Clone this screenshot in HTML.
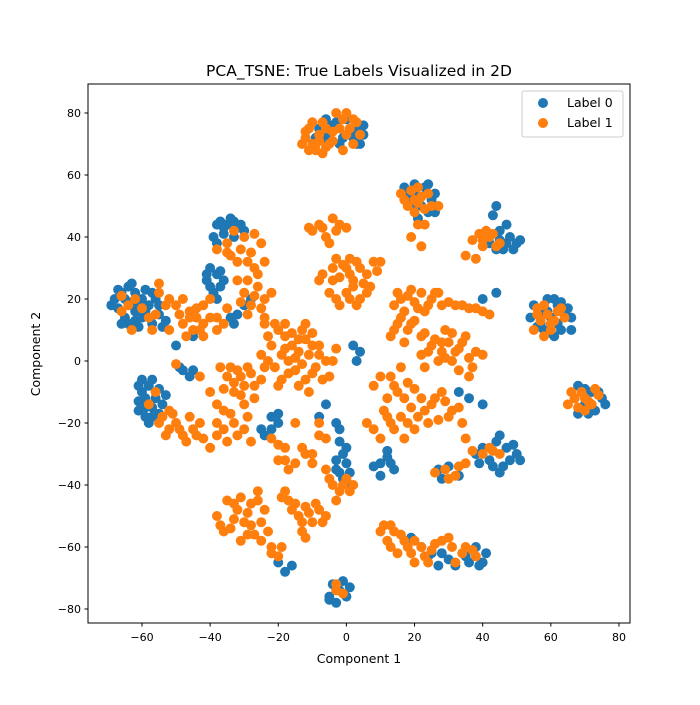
<!DOCTYPE html>
<html><head><meta charset="utf-8"><style>
body{margin:0;background:#fff;font-family:"Liberation Sans","DejaVu Sans",sans-serif}
svg text{font-family:"DejaVu Sans","Liberation Sans",sans-serif}
</style></head><body>
<svg id="chart" width="700" height="700" xmlns="http://www.w3.org/2000/svg">
<rect width="700" height="700" fill="#fff"/>
<text x="359" y="76" font-size="15.5" text-anchor="middle">PCA_TSNE: True Labels Visualized in 2D</text>
<g id="points"></g>
<rect x="88" y="84" width="542" height="539" fill="none" stroke="#000" stroke-width="1"/>
<g id="xt"></g>
<g id="yt"></g>
<text x="359" y="663" font-size="12.5" text-anchor="middle">Component 1</text>
<text transform="translate(40,354) rotate(-90)" font-size="12.5" text-anchor="middle">Component 2</text>
<g>
<rect x="522" y="91" width="101" height="46" rx="2" fill="#fff" fill-opacity="0.8" stroke="#ccc"/>
<circle cx="543" cy="103" r="5" fill="#1f77b4"/>
<text x="567" y="107" font-size="12.5">Label 0</text>
<circle cx="543" cy="123" r="5" fill="#ff7f0e"/>
<text x="567" y="127" font-size="12.5">Label 1</text>
</g>
</svg>
<script>
const xTicks=[-60,-40,-20,0,20,40,60,80];
const yTicks=[-80,-60,-40,-20,0,20,40,60,80];
const label0=[[-68,20],[-66,22],[-64,24],[-62,22],[-60,20],[-58,18],[-62,16],[-65,14],[-60,14],[-57,12],[-55,15],[-53,13],[-63,19],[-67,17],[-59,23],[-56,20],[-61,11],[-64,12],
[-60,-10],[-58,-8],[-56,-12],[-54,-14],[-59,-15],[-57,-18],[-61,-13],[-55,-9],[-53,-11],[-58,-20],[-48,-3],[-46,-5],[-49,-2],
[-37,45],[-35,44],[-33,45],[-31,44],[-36,41],[-33,40],[-30,42],[-38,38],[-40,30],[-38,28],[-41,26],[-37,24],[-39,22],[-36,26],[-30,18],[-28,20],[-32,15],[-33,12],[-34,14],
[-5,76],[0,78],[3,75],[5,76],[2,72],[-2,70],[4,70],[-8,75],[-6,72],
[20,57],[23,56],[18,53],[22,50],[25,52],[26,48],[21,46],
[44,50],[43,47],[45,42],[48,40],[50,38],[46,36],[42,38],[47,44],
[40,20],[44,22],[55,18],[58,16],[60,14],[62,18],[64,16],[57,12],[60,9],[63,10],[66,14],[59,20],[54,14],
[68,-8],[72,-10],[75,-12],[70,-14],[73,-16],[67,-12],
[40,-28],[44,-26],[47,-28],[50,-30],[42,-32],[46,-34],[38,-30],[48,-32],[27,-35],[30,-34],[33,-37],[28,-38],
[-2,-26],[-1,-30],[0,-33],[-3,-35],[-1,-38],[1,-40],[-3,-20],
[-4,-72],[-2,-74],[-5,-76],[-1,-71],[0,-76],
[25,-62],[30,-64],[35,-63],[40,-65],[22,-60],[27,-66],[38,-60],
[10,-33],[12,-31],[14,-35],[36,-12],[40,-14],[33,-10],[2,5],[4,3],[3,0],
[-18,-68],[-16,-66],[-20,-65],[-20,-20],[-22,-18],[-24,-24],[-8,-18],[-6,-14],[-50,5],[-45,8],
[-69,18],[-67,23],[-65,20],[-63,25],[-61,18],[-59,16],[-57,22],[-55,18],[-54,11],[-66,12],[-62,13],
[-61,-8],[-59,-12],[-57,-15],[-55,-17],[-59,-18],[-61,-16],[-57,-6],
[-38,44],[-34,46],[-32,43],[-36,43],[-39,40],[-41,28],[-40,24],[-37,29],[-38,20],
[-6,78],[-3,77],[1,74],[5,73],[3,70],[-1,72],[-9,72],
[17,56],[20,54],[24,57],[26,54],[19,50],[24,48],
[45,39],[49,36],[51,39],[47,38],[44,36],
[61,20],[63,19],[65,17],[66,10],[61,8],[58,10],[56,11],[59,16],[62,12],
[70,-9],[74,-10],[76,-14],[71,-17],[68,-17],
[45,-24],[49,-27],[51,-32],[43,-34],[39,-33],[45,-36],
[0,-28],[-2,-36],[1,-36],[-3,-32],[-2,-22],[-5,-77],[1,-73],[-3,-78],
[19,-57],[24,-63],[28,-62],[32,-66],[36,-65],[41,-62],[39,-66],
[10,-37],[12,-29],[8,-34],[13,-33],[-25,-22],[-22,-22],[-20,-17],[-45,-3],[-60,-6]];
const label1=[[-12,72],[-10,70],[-8,71],[-6,69],[-11,75],[-7,77],[-4,74],[-3,80],[0,80],[1,75],[-9,68],[-5,70],[2,78],[4,73],
[19,55],[17,52],[21,51],[24,54],[20,48],[23,44],[19,40],[22,37],[27,50],
[42,40],[45,38],[40,37],[38,33],[35,34],[39,41],
[-10,42],[-7,43],[-4,46],[-2,44],[0,43],[-6,40],
[-7,28],[-4,30],[-2,27],[0,30],[2,26],[4,30],[1,33],[-3,33],[6,28],[8,32],[10,32],[-5,22],[0,22],[4,20],[2,24],[7,24],[-2,18],
[15,22],[18,21],[20,19],[22,22],[25,20],[17,16],[14,18],[23,16],[28,18],[32,18],[36,17],[40,16],[27,22],
[15,12],[13,8],[18,10],[20,13],[23,9],
[25,5],[28,3],[30,6],[33,4],[35,8],[31,0],[27,0],[22,2],[38,3],[29,10],[37,-2],[40,2],
[13,-5],[16,-2],[18,-7],[15,-10],[12,-12],[19,-15],[22,-12],[25,-14],[28,-10],[30,-18],[24,-20],[20,-22],[17,-25],[13,-20],[16,-18],[33,-15],[10,-25],[8,-22],[6,-20],[10,-5],[8,-8],
[-20,10],[-18,8],[-16,5],[-14,3],[-12,7],[-10,9],[-19,2],[-17,0],[-13,10],[-11,2],[-15,-3],[-9,-2],[-8,5],[-6,0],[-22,5],[-21,-2],[-24,12],[-20,-8],[-12,-6],[-5,-5],[-3,4],
[-35,-5],[-32,-3],[-30,-8],[-28,-4],[-25,-6],[-33,-10],[-27,-12],[-24,-2],[-37,-2],[-30,-14],[-36,-16],[-33,-20],[-38,-20],[-30,-22],[-35,-26],[-40,-10],[-43,-5],
[-30,22],[-28,18],[-26,24],[-24,20],[-32,26],[-26,28],[-28,35],[-25,38],[-32,32],[-35,38],[-38,36],[-33,42],[-30,40],[-29,15],[-24,14],
[-50,18],[-46,16],[-44,14],[-48,12],[-42,18],[-40,20],[-52,10],[-45,10],[-38,10],[-35,17],[-40,14],[-42,8],
[-66,16],[-62,20],[-58,14],[-55,22],[-52,20],[-63,10],[-55,25],
[-58,-14],[-56,-10],[-52,-16],[-55,-20],[-50,-20],[-48,-24],[-45,-22],[-42,-25],[-46,-18],[-52,-22],[-40,-28],[-38,-24],[-50,-1],
[-22,-25],[-18,-28],[-20,-32],[-17,-35],[-12,-30],[-10,-33],[-6,-25],[-8,-20],[-15,-20],
[-35,-45],[-32,-48],[-30,-52],[-34,-54],[-28,-46],[-26,-42],[-24,-48],[-27,-56],[-23,-55],[-31,-58],[-22,-60],[-20,-63],[-38,-50],[-36,-55],
[-18,-42],[-16,-48],[-14,-50],[-12,-47],[-10,-52],[-8,-48],[-6,-50],[-13,-55],[-17,-45],
[-4,-40],[-2,-42],[0,-38],[2,-40],[-3,-45],[-6,-35],[-3,-72],[-1,-75],
[10,-55],[13,-53],[16,-56],[12,-58],[18,-60],[20,-58],[23,-63],[26,-59],[30,-57],[34,-62],[37,-61],[32,-65],[20,-65],[15,-62],
[26,-36],[30,-38],[33,-34],[40,-30],[35,-25],
[66,-10],[70,-12],[73,-9],[68,-15],[72,-14],
[56,15],[60,12],[62,16],[64,14],[58,18],[55,10],[42,-28],[45,-30],
[-13,70],[-11,68],[-8,73],[-10,77],[-6,75],[-4,71],[-2,75],[0,73],[-1,78],[3,77],[2,70],[-7,67],[-12,74],[-9,70],[-1,68],
[18,50],[20,52],[22,53],[23,49],[21,56],[16,54],[25,50],[21,44],
[41,42],[43,41],[40,39],[44,37],[37,39],
[-8,44],[-11,43],[-3,42],[-5,38],[-8,26],[-4,26],[1,28],[3,32],[5,25],[-1,31],[9,29],[6,22],[-3,20],[1,20],[3,18],
[16,20],[19,23],[21,17],[24,18],[26,22],[30,19],[34,18],[38,17],[42,15],[16,14],[19,12],[14,10],[22,8],[17,6],
[24,3],[26,7],[29,1],[32,3],[34,6],[36,1],[28,6],[31,9],[23,-2],[36,-5],[33,-3],
[14,-8],[17,-12],[20,-9],[21,-18],[23,-16],[26,-12],[29,-13],[27,-19],[18,-20],[14,-22],[12,-18],[11,-16],[31,-16],[34,-20],
[-23,8],[-21,12],[-18,12],[-16,9],[-14,7],[-12,12],[-10,5],[-15,1],[-13,-1],[-18,4],[-17,-4],[-10,-4],[-7,-6],[-4,0],[-8,2],[-23,0],[-19,-6],[-14,-8],[-11,-10],[-25,2],
[-34,-2],[-31,-5],[-29,-2],[-27,-8],[-33,-7],[-36,-9],[-31,-11],[-29,-18],[-34,-17],[-32,-24],[-36,-22],[-28,-26],[-38,-14],
[-27,21],[-25,17],[-29,26],[-27,30],[-24,32],[-29,32],[-34,34],[-31,36],[-27,41],[-35,35],[-22,22],[-31,19],
[-48,20],[-46,14],[-44,17],[-42,12],[-38,14],[-36,12],[-47,8],[-49,15],[-43,10],
[-64,18],[-60,17],[-56,15],[-53,18],[-57,10],[-66,21],
[-54,-18],[-53,-24],[-49,-22],[-47,-26],[-44,-24],[-43,-20],[-51,-17],
[-20,-27],[-18,-32],[-15,-33],[-13,-28],[-10,-30],[-8,-24],
[-33,-46],[-31,-44],[-29,-49],[-33,-51],[-26,-45],[-25,-52],[-28,-53],[-25,-58],[-29,-56],[-22,-62],[-19,-60],[-37,-53],
[-19,-44],[-15,-46],[-11,-49],[-9,-46],[-7,-52],[-13,-52],[-12,-57],
[-1,-40],[1,-42],[-5,-38],[-3,-74],
[11,-53],[14,-55],[17,-58],[19,-62],[22,-60],[25,-61],[28,-58],[31,-60],[35,-60],[38,-63],[13,-60],[24,-65],
[29,-35],[32,-37],[35,-33],[37,-29],[43,-29],
[67,-12],[69,-10],[71,-13],[74,-11],[70,-16],[65,-14],
[57,13],[59,15],[61,13],[60,10],[63,17],[58,8],[56,17]];
const NS='http://www.w3.org/2000/svg';
const xS=v=>346.4+v*3.407;
const yS=v=>361-v*3.1;
const pts=document.getElementById('points');
function drawSeries(data,color,name){
  data.forEach(p=>{
    const c=document.createElementNS(NS,'circle');
    c.setAttribute('cx',xS(p[0]));c.setAttribute('cy',yS(p[1]));
    c.setAttribute('r',5);c.setAttribute('fill',color);
    
    
    pts.appendChild(c);
  });
}
drawSeries(label0,'#1f77b4','point-label-0');
drawSeries(label1,'#ff7f0e','point-label-1');
const xt=document.getElementById('xt');
xTicks.forEach(t=>{
  const x=xS(t);
  const l=document.createElementNS(NS,'line');
  l.setAttribute('x1',x);l.setAttribute('x2',x);l.setAttribute('y1',623);l.setAttribute('y2',626.5);l.setAttribute('stroke','#000');
  
  
  xt.appendChild(l);
  const tx=document.createElementNS(NS,'text');
  tx.setAttribute('x',x);tx.setAttribute('y',641);tx.setAttribute('font-size','11');tx.setAttribute('text-anchor','middle');
  tx.textContent=(t<0?'\u2212'+(-t):t);
  
  
  xt.appendChild(tx);
});
const yt=document.getElementById('yt');
yTicks.forEach(t=>{
  const y=yS(t);
  const l=document.createElementNS(NS,'line');
  l.setAttribute('x1',84.5);l.setAttribute('x2',88);l.setAttribute('y1',y);l.setAttribute('y2',y);l.setAttribute('stroke','#000');
  
  
  yt.appendChild(l);
  const tx=document.createElementNS(NS,'text');
  tx.setAttribute('x',81);tx.setAttribute('y',y+4);tx.setAttribute('font-size','11');tx.setAttribute('text-anchor','end');
  tx.textContent=(t<0?'\u2212'+(-t):t);
  
  
  yt.appendChild(tx);
});
</script>
</body></html>
